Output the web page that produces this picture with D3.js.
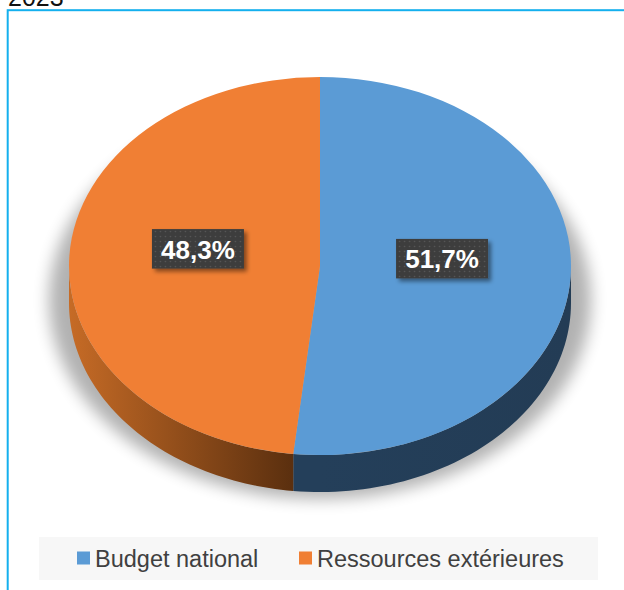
<!DOCTYPE html>
<html>
<head>
<meta charset="utf-8">
<script src="https://cdn.jsdelivr.net/npm/d3@7"></script>
<style>
  html, body { margin: 0; padding: 0; background: #fff; }
  svg { display: block; }
</style>
</head>
<body>
<svg id="chart" width="624" height="590"></svg>
<script>
// Funding split, 2023
const categories = ["Budget national", "Ressources extérieures"];
const values = [51.7, 48.3];
const valueLabels = ["51,7%", "48,3%"];
const yearLabel = "2023";

const topColors = ["#5b9bd5", "#f07f34"];
const sideColors = [["#243f5a", "#233c55"], ["#c66b26", "#5c300f"]];

const W = 624, H = 590;
const cx = 320, cy = 266, rx = 251, ry = 189, depth = 37;

const svg = d3.select("#chart");
const defs = svg.append("defs");

// soft shadow under the disc
defs.append("filter").attr("id", "pieShadow")
  .attr("x", "-20%").attr("y", "-20%").attr("width", "140%").attr("height", "140%")
  .append("feGaussianBlur").attr("stdDeviation", 8);

// drop shadow for label boxes
const lf = defs.append("filter").attr("id", "boxShadow")
  .attr("x", "-20%").attr("y", "-30%").attr("width", "150%").attr("height", "170%");
lf.append("feDropShadow").attr("dx", 3).attr("dy", 3).attr("stdDeviation", 2)
  .attr("flood-color", "#000").attr("flood-opacity", 0.45);

// dotted texture of label boxes
const pat = defs.append("pattern").attr("id", "dots")
  .attr("width", 5).attr("height", 5).attr("patternUnits", "userSpaceOnUse");
pat.append("rect").attr("width", 5).attr("height", 5).attr("fill", "#3d3d3d");
pat.append("circle").attr("cx", 2.5).attr("cy", 2.5).attr("r", 0.8).attr("fill", "#575757");

// side gradients, lit from the left
sideColors.forEach((c, i) => {
  const g = defs.append("linearGradient").attr("id", "side" + i)
    .attr("gradientUnits", "userSpaceOnUse")
    .attr("x1", i === 0 ? cx : cx - rx).attr("x2", i === 0 ? cx + rx : cx - 30)
    .attr("y1", 0).attr("y2", 0);
  g.append("stop").attr("offset", "0%").attr("stop-color", c[0]);
  g.append("stop").attr("offset", "100%").attr("stop-color", c[1]);
});

// year heading, cut by the top of the page
svg.append("text").attr("x", 8).attr("y", 6)
  .attr("font-family", "Liberation Sans, Arial, sans-serif")
  .attr("font-size", 25).attr("fill", "#111").text(yearLabel);

// chart frame
svg.append("rect").attr("x", 7.7).attr("y", 10.2).attr("width", 660).attr("height", 640)
  .attr("fill", "none").attr("stroke", "#14b0ee").attr("stroke-width", 2);

// shadow
svg.append("ellipse").attr("cx", cx).attr("cy", cy + 34).attr("rx", rx + 20).attr("ry", ry + 10)
  .attr("fill", "#000").attr("opacity", 0.3).attr("filter", "url(#pieShadow)");

const pie = d3.pie().sort(null).value(d => d)(values);

// elliptical projection of an angle (clockwise from 12 o'clock)
const ex = a => cx + rx * Math.sin(a);
const ey = a => cy - ry * Math.cos(a);

const lineGen = d3.line().x(d => d[0]).y(d => d[1]);

// front wall of each slice (only the lower half faces the viewer)
pie.forEach((p, i) => {
  const a0 = Math.max(p.startAngle, Math.PI / 2);
  const a1 = Math.min(p.endAngle, Math.PI * 1.5);
  if (a1 <= a0) return;
  const n = 60;
  const angles = d3.range(n + 1).map(k => a0 + (a1 - a0) * k / n);
  const pts = angles.map(a => [ex(a), ey(a)])
    .concat(angles.slice().reverse().map(a => [ex(a), ey(a) + depth]));
  svg.append("path").attr("d", lineGen(pts) + "Z")
    .attr("fill", `url(#side${i})`);
});

// top face
const arc = d3.arc().innerRadius(0).outerRadius(rx);
svg.append("g").attr("transform", `translate(${cx},${cy}) scale(1,${ry / rx})`)
  .selectAll("path").data(pie).join("path")
  .attr("d", arc)
  .attr("fill", (d, i) => topColors[i]);

// value labels
const labelR = 0.487;
pie.forEach((p, i) => {
  const mid = (p.startAngle + p.endAngle) / 2;
  const lx = cx + rx * labelR * Math.sin(mid);
  const ly = cy - ry * labelR * Math.cos(mid) - 12;
  const g = svg.append("g").attr("transform", `translate(${lx},${ly})`);
  g.append("rect").attr("x", -46).attr("y", -20).attr("width", 92).attr("height", 39.5)
    .attr("fill", "url(#dots)").attr("filter", "url(#boxShadow)");
  g.append("text").attr("x", 0).attr("y", 9.5)
    .attr("text-anchor", "middle")
    .attr("font-family", "Liberation Sans, Arial, sans-serif")
    .attr("font-weight", "bold").attr("font-size", 26)
    .attr("fill", "#fff").text(valueLabels[i]);
});

// legend
const lg = svg.append("g");
lg.append("rect").attr("x", 39).attr("y", 537).attr("width", 559).attr("height", 43)
  .attr("fill", "#f7f7f7");
const legendX = [77, 299];
categories.forEach((c, i) => {
  lg.append("rect").attr("x", legendX[i]).attr("y", 551.5).attr("width", 13).attr("height", 13)
    .attr("fill", topColors[i]);
  lg.append("text").attr("x", legendX[i] + 18).attr("y", 567)
    .attr("font-family", "Liberation Sans, Arial, sans-serif")
    .attr("font-size", 23.5).attr("fill", "#404040").text(c);
});
</script>
</body>
</html>
